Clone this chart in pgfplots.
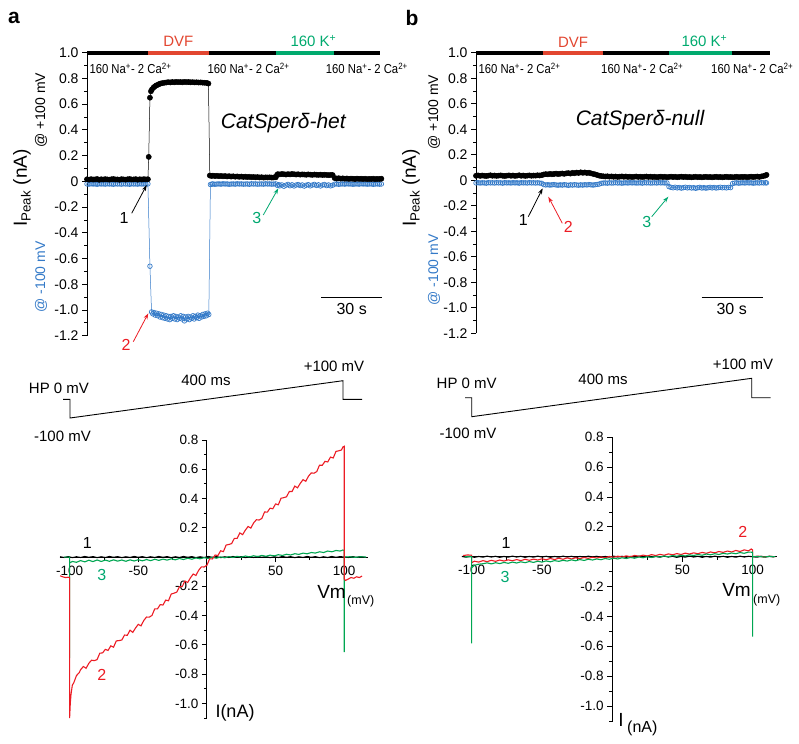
\documentclass[border=0pt]{standalone}
\usepackage{pgfplots}
\pgfplotsset{compat=1.18}
\usepackage{fontspec}
\setmainfont{Liberation Sans}
\newfontfamily\narrowfont[FakeStretch=0.87]{Liberation Sans}
\usetikzlibrary{arrows.meta}
\definecolor{cblue}{RGB}{52,122,200}
\definecolor{cred}{RGB}{236,28,36}
\definecolor{cgreen}{RGB}{0,166,81}
\definecolor{lgreen}{RGB}{0,168,112}
\definecolor{bred}{RGB}{226,70,48}
\definecolor{bgreen}{RGB}{0,170,110}
\newcommand{\fs}[1]{\fontsize{#1}{#1}\selectfont}
\pgfplotsset{
  topax/.style={scale only axis, clip=false, axis x line=none, axis y line*=left,
    xmin=0, ymin=-1.2, ymax=1.0,
    ytick={-1.2,-1,-0.8,-0.6,-0.4,-0.2,0,0.2,0.4,0.6,0.8,1},
    yticklabels={-1.2,-1.0,-0.8,-0.6,-0.4,-0.2,0,0.2,0.4,0.6,0.8,1.0},
    minor y tick num=1, tick align=outside,
    major tick length=5pt, minor tick length=3pt,
    yticklabel style={font=\fs{14}},
    axis line style={line width=0.9pt}, tick style={line width=0.8pt, black}},
  ivax/.style={scale only axis, clip=false, axis lines=middle,
    axis line style={-, line width=0.9pt},
    xtick={-100,-50,50,100}, xticklabels={-100,-50,50,100},
    minor xtick={-75,-25,25,75},
    ytick={-1,-0.8,-0.6,-0.4,-0.2,0.2,0.4,0.6,0.8},
    yticklabels={-1.0,-0.8,-0.6,-0.4,-0.2,0.2,0.4,0.6,0.8},
    minor ytick={-1.1,-0.9,-0.7,-0.5,-0.3,-0.1,0.1,0.3,0.5,0.7},
    tick align=outside, major tick length=5pt, minor tick length=3pt,
    tick style={line width=0.8pt, black},
    xticklabel style={font=\fs{13.5}}, yticklabel style={font=\fs{13.5}}},
  pos/.style={black, line width=0.5pt, mark=*, mark size=2.6pt, mark options={fill=black, draw=black}},
  neg/.style={cblue, line width=0.5pt, mark=o, mark size=2.3pt, mark options={draw=cblue, line width=0.7pt}},
}
\begin{document}
\begin{tikzpicture}
\useasboundingbox (0,0) rectangle (799pt,743pt);

% ---------------- top a ----------------
\begin{axis}[topax, at={(87pt,407.3pt)}, anchor=south west, xmax=146, width=296.4pt, height=283pt]
\addplot[line width=4.3pt, black] coordinates {(0,1)(30,1)};
\addplot[line width=4.3pt, bred] coordinates {(30,1)(60,1)};
\addplot[line width=4.3pt, black] coordinates {(60,1)(93.1,1)};
\addplot[line width=4.3pt, bgreen] coordinates {(93.1,1)(121.7,1)};
\addplot[line width=4.3pt, black] coordinates {(121.7,1)(144.5,1)};
\addplot[neg] coordinates {
(0,-0.020)(1,-0.022)(2,-0.019)(3,-0.021)(4,-0.020)(5,-0.023)(6,-0.019)(7,-0.021)(8,-0.020)(9,-0.022)(10,-0.019)(11,-0.021)(12,-0.020)(13,-0.023)(14,-0.019)(15,-0.021)(16,-0.020)(17,-0.022)(18,-0.019)(19,-0.021)(20,-0.020)(21,-0.023)(22,-0.019)(23,-0.021)(24,-0.020)(25,-0.022)(26,-0.019)(27,-0.021)(28,-0.020)(29,-0.022)(30,-0.020)
(31,-0.66)(31.8,-1.015)(32.4,-1.03)(33,-1.02)(33.6,-1.04)(34.2,-1.025)(34.8,-1.045)(35.4,-1.03)(36,-1.055)(36.6,-1.035)(37.2,-1.06)(37.8,-1.04)(38.4,-1.065)(39,-1.045)(39.6,-1.07)(40.2,-1.05)(40.8,-1.075)(41.4,-1.05)(42,-1.065)(42.6,-1.045)(43.2,-1.07)(43.8,-1.05)(44.4,-1.075)(45,-1.055)(45.6,-1.065)(46.2,-1.045)(46.8,-1.07)(47.4,-1.05)(48,-1.085)(48.6,-1.055)(49.2,-1.07)(49.8,-1.05)(50.4,-1.075)(51,-1.055)(51.6,-1.065)(52.2,-1.045)(52.8,-1.07)(53.4,-1.05)(54,-1.06)(54.6,-1.04)(55.2,-1.065)(55.8,-1.045)(56.4,-1.055)(57,-1.035)(57.6,-1.05)(58.2,-1.03)(58.8,-1.045)(59.4,-1.025)(60,-1.035)
(60.8,-0.025)(61.5,-0.022)(62,-0.020)(63,-0.023)(64,-0.021)(65,-0.020)(66,-0.022)(67,-0.019)(68,-0.021)(69,-0.020)(70,-0.023)(71,-0.021)(72,-0.020)(73,-0.022)(74,-0.019)(75,-0.021)(76,-0.020)(77,-0.022)(78,-0.021)(79,-0.020)(80,-0.023)(81,-0.019)(82,-0.021)(83,-0.020)(84,-0.022)(85,-0.021)(86,-0.020)(87,-0.022)(88,-0.019)(89,-0.021)(90,-0.020)(91,-0.022)(92,-0.021)(93,-0.020)
(93.8,-0.032)(94.5,-0.026)(95,-0.035)(96,-0.028)(97,-0.038)(98,-0.030)(99,-0.024)(100,-0.034)(101,-0.027)(102,-0.036)(103,-0.029)(104,-0.025)(105,-0.033)(106,-0.028)(107,-0.037)(108,-0.030)(109,-0.026)(110,-0.035)(111,-0.029)(112,-0.024)(113,-0.032)(114,-0.027)(115,-0.036)(116,-0.029)(117,-0.025)(118,-0.033)(119,-0.028)(120,-0.035)(121,-0.030)
(122,-0.022)(123,-0.020)(124,-0.023)(125,-0.021)(126,-0.020)(127,-0.022)(128,-0.019)(129,-0.021)(130,-0.020)(131,-0.023)(132,-0.021)(133,-0.020)(134,-0.022)(135,-0.019)(136,-0.021)(137,-0.020)(138,-0.022)(139,-0.021)(140,-0.020)(141,-0.023)(142,-0.021)(143,-0.020)(144,-0.022)(145,-0.021)};
\addplot[pos] coordinates {
(0,0.016)(1,0.013)(2,0.017)(3,0.014)(4,0.015)(5,0.018)(6,0.012)(7,0.016)(8,0.014)(9,0.017)(10,0.015)(11,0.013)(12,0.016)(13,0.018)(14,0.014)(15,0.015)(16,0.012)(17,0.017)(18,0.015)(19,0.013)(20,0.016)(21,0.018)(22,0.014)(23,0.015)(24,0.017)(25,0.013)(26,0.016)(27,0.014)(28,0.017)(29,0.015)(30,0.016)
(30.4,0.19)(31,0.65)(31.5,0.70)(32,0.715)(32.7,0.728)(33.4,0.738)(34.1,0.745)(34.8,0.75)(35.5,0.756)(36.2,0.76)(37,0.763)(38,0.766)(39,0.768)(40,0.771)(41,0.769)(42,0.772)(43,0.77)(44,0.773)(45,0.771)(46,0.772)(47,0.77)(48,0.773)(49,0.771)(50,0.772)(51,0.77)(52,0.771)(53,0.769)(54,0.77)(55,0.768)(56,0.769)(57,0.767)(58,0.766)(59,0.765)(59.8,0.76)
(60.5,0.045)(61.3,0.042)(62,0.044)(63,0.041)(64,0.043)(65,0.040)(66,0.042)(67,0.039)(68,0.041)(69,0.038)(70,0.040)(71,0.037)(72,0.039)(73,0.036)(74,0.038)(75,0.035)(76,0.037)(77,0.034)(78,0.036)(79,0.033)(80,0.035)(81,0.032)(82,0.034)(83,0.031)(84,0.033)(85,0.030)(86,0.032)(87,0.029)(88,0.031)(89,0.030)(90,0.031)(91,0.029)(92,0.030)(93,0.031)
(93.6,0.050)(94,0.056)(95,0.054)(96,0.057)(97,0.055)(98,0.053)(99,0.056)(100,0.054)(101,0.057)(102,0.055)(103,0.053)(104,0.055)(105,0.052)(106,0.054)(107,0.053)(108,0.051)(109,0.054)(110,0.052)(111,0.050)(112,0.053)(113,0.051)(114,0.050)(115,0.052)(116,0.049)(117,0.051)(118,0.050)(119,0.048)(120,0.050)(121,0.049)
(122,0.025)(123,0.022)(124,0.024)(125,0.021)(126,0.023)(127,0.020)(128,0.022)(129,0.019)(130,0.021)(131,0.020)(132,0.018)(133,0.021)(134,0.019)(135,0.020)(136,0.018)(137,0.020)(138,0.017)(139,0.019)(140,0.018)(141,0.020)(142,0.017)(143,0.019)(144,0.018)(145,0.020)};
\end{axis}

% ---------------- top b ----------------
\begin{axis}[topax, at={(476pt,409.7pt)}, anchor=south west, xmax=143.5, width=294.6pt, height=280.6pt]
\addplot[line width=4.3pt, black] coordinates {(0,1)(32.5,1)};
\addplot[line width=4.3pt, bred] coordinates {(32.5,1)(61.7,1)};
\addplot[line width=4.3pt, black] coordinates {(61.7,1)(94,1)};
\addplot[line width=4.3pt, bgreen] coordinates {(94,1)(124.5,1)};
\addplot[line width=4.3pt, black] coordinates {(124.5,1)(143.2,1)};
\addplot[neg] coordinates {
(0,-0.021)(1,-0.019)(2,-0.022)(3,-0.020)(4,-0.021)(5,-0.023)(6,-0.019)(7,-0.021)(8,-0.020)(9,-0.022)(10,-0.019)(11,-0.021)(12,-0.020)(13,-0.023)(14,-0.019)(15,-0.021)(16,-0.020)(17,-0.022)(18,-0.019)(19,-0.021)(20,-0.020)(21,-0.023)(22,-0.019)(23,-0.021)(24,-0.020)(25,-0.022)(26,-0.019)(27,-0.021)(28,-0.020)(29,-0.022)(30,-0.020)(31,-0.022)(32,-0.024)
(33,-0.034)(34,-0.037)(35,-0.035)(36,-0.038)(37,-0.036)(38,-0.034)(39,-0.037)(40,-0.039)(41,-0.036)(42,-0.038)(43,-0.035)(44,-0.037)(45,-0.040)(46,-0.036)(47,-0.038)(48,-0.035)(49,-0.037)(50,-0.039)(51,-0.036)(52,-0.038)(53,-0.035)(54,-0.037)(55,-0.034)(56,-0.036)(57,-0.038)(58,-0.035)(59,-0.033)(60,-0.030)
(61,-0.024)(62,-0.022)(63,-0.021)(64,-0.023)(65,-0.020)(66,-0.022)(67,-0.021)(68,-0.019)(69,-0.022)(70,-0.020)(71,-0.023)(72,-0.021)(73,-0.020)(74,-0.022)(75,-0.019)(76,-0.021)(77,-0.020)(78,-0.022)(79,-0.021)(80,-0.020)(81,-0.023)(82,-0.019)(83,-0.021)(84,-0.020)(85,-0.022)(86,-0.021)(87,-0.020)(88,-0.022)(89,-0.019)(90,-0.021)(91,-0.020)(92,-0.022)(93,-0.021)
(94,-0.050)(95,-0.056)(96,-0.059)(97,-0.055)(98,-0.060)(99,-0.057)(100,-0.062)(101,-0.058)(102,-0.055)(103,-0.060)(104,-0.057)(105,-0.061)(106,-0.058)(107,-0.063)(108,-0.059)(109,-0.056)(110,-0.061)(111,-0.058)(112,-0.062)(113,-0.059)(114,-0.056)(115,-0.060)(116,-0.057)(117,-0.061)(118,-0.058)(119,-0.055)(120,-0.059)(121,-0.057)(122,-0.060)(123,-0.056)(124,-0.058)
(125,-0.026)(126,-0.022)(127,-0.020)(128,-0.023)(129,-0.021)(130,-0.020)(131,-0.022)(132,-0.019)(133,-0.021)(134,-0.020)(135,-0.023)(136,-0.021)(137,-0.020)(138,-0.022)(139,-0.019)(140,-0.021)(141,-0.020)(141.5,-0.021)};
\addplot[pos] coordinates {
(0,0.035)(1,0.038)(2,0.034)(3,0.037)(4,0.035)(5,0.033)(6,0.036)(7,0.039)(8,0.035)(9,0.037)(10,0.034)(11,0.036)(12,0.038)(13,0.035)(14,0.033)(15,0.036)(16,0.038)(17,0.035)(18,0.037)(19,0.034)(20,0.036)(21,0.039)(22,0.035)(23,0.037)(24,0.034)(25,0.036)(26,0.038)(27,0.035)(28,0.037)(29,0.036)(30,0.039)(31,0.037)(32,0.040)
(33,0.045)(34,0.048)(35,0.046)(36,0.050)(37,0.047)(38,0.049)(39,0.052)(40,0.048)(41,0.051)(42,0.053)(43,0.050)(44,0.054)(45,0.056)(46,0.052)(47,0.058)(48,0.055)(49,0.060)(50,0.057)(51,0.062)(52,0.058)(53,0.061)(54,0.057)(55,0.059)(56,0.054)(57,0.050)(58,0.046)(59,0.041)
(60,0.036)(61,0.033)(62,0.031)(63,0.029)(64,0.031)(65,0.028)(66,0.030)(67,0.027)(68,0.029)(69,0.026)(70,0.028)(71,0.030)(72,0.027)(73,0.029)(74,0.026)(75,0.028)(76,0.025)(77,0.027)(78,0.029)(79,0.026)(80,0.028)(81,0.025)(82,0.027)(83,0.029)(84,0.026)(85,0.028)(86,0.025)(87,0.027)(88,0.024)(89,0.026)(90,0.028)(91,0.025)(92,0.027)(93,0.024)(94,0.026)(95,0.028)(96,0.025)(97,0.027)(98,0.024)(99,0.026)(100,0.028)
(101,0.025)(102,0.027)(103,0.024)(104,0.026)(105,0.023)(106,0.025)(107,0.027)(108,0.024)(109,0.026)(110,0.023)(111,0.025)(112,0.027)(113,0.024)(114,0.026)(115,0.023)(116,0.025)(117,0.027)(118,0.024)(119,0.026)(120,0.023)(121,0.025)(122,0.027)(123,0.024)(124,0.026)(125,0.023)(126,0.025)(127,0.027)(128,0.024)(129,0.026)(130,0.025)(131,0.027)(132,0.024)(133,0.026)(134,0.028)(135,0.025)(136,0.027)(137,0.029)(138,0.026)(139,0.030)(140,0.033)(141,0.037)(141.5,0.042)};
\end{axis}

% ---------------- IV a ----------------
\begin{axis}[ivax, at={(60pt,25pt)}, anchor=south west, xmin=-107, xmax=117.4, ymin=-1.1, ymax=0.8, width=308.1pt, height=278pt]
\addplot[black, line width=1.1pt] coordinates {
(-107,0.002)(-104,-0.003)(-101,0.003)(-98,-0.004)(-95,0.002)(-92,-0.003)(-89,0.004)(-86,-0.002)(-83,0.003)(-80,-0.004)(-77,0.002)(-74,-0.003)(-71,0.004)(-68,-0.002)(-65,0.003)(-62,-0.004)(-59,0.002)(-56,-0.003)(-53,0.004)(-50,-0.002)(-47,0.003)(-44,-0.004)(-41,0.002)(-38,-0.003)(-35,0.004)(-32,-0.002)(-29,0.003)(-26,-0.004)(-23,0.002)(-20,-0.003)(-17,0.004)(-14,-0.002)(-11,0.003)(-8,-0.004)(-5,0.002)(-2,-0.003)(1,0.004)(4,-0.002)(7,0.003)(10,-0.004)(13,0.002)(16,-0.003)(19,0.004)(22,-0.002)(25,0.003)(28,-0.004)(31,0.002)(34,-0.003)(37,0.004)(40,-0.002)(43,0.003)(46,-0.004)(49,0.002)(52,-0.003)(55,0.004)(58,-0.002)(61,0.003)(64,-0.004)(67,0.002)(70,-0.003)(73,0.004)(76,-0.002)(79,0.003)(82,-0.004)(85,0.002)(88,-0.003)(91,0.004)(94,-0.002)(97,0.003)(100,0.0)(103,-0.003)(106,0.003)(109,-0.002)(112,0.003)(115,-0.002)};
\addplot[cgreen, line width=1.1pt] coordinates {
(-104,0)(-100,0)(-100,-0.69)(-100,-0.04)(-98,-0.030)(-95,-0.036)(-92,-0.024)(-89,-0.033)(-86,-0.022)(-83,-0.031)(-80,-0.020)(-77,-0.030)(-74,-0.021)(-71,-0.029)(-68,-0.019)(-65,-0.028)(-62,-0.020)(-59,-0.029)(-56,-0.019)(-53,-0.027)(-50,-0.018)(-47,-0.026)(-44,-0.017)(-41,-0.025)(-38,-0.015)(-35,-0.023)(-32,-0.014)(-29,-0.021)(-26,-0.012)(-23,-0.019)(-20,-0.010)(-17,-0.017)(-14,-0.008)(-11,-0.015)(-8,-0.006)(-5,-0.012)(-2,-0.004)(1,-0.010)(4,-0.002)(7,-0.008)(10,0.001)(13,-0.005)(16,0.003)(19,-0.003)(22,0.005)(25,-0.001)(28,0.007)(31,0.001)(34,0.009)(37,0.003)(40,0.011)(43,0.005)(46,0.013)(49,0.008)(52,0.016)(55,0.011)(58,0.019)(61,0.014)(64,0.023)(67,0.018)(70,0.027)(73,0.022)(76,0.031)(79,0.027)(82,0.036)(85,0.031)(88,0.041)(91,0.036)(94,0.045)(97,0.041)(99,0.048)(100,0.045)(100,-0.65)(100,0)(104,0.002)(108,-0.002)(112,0.002)(116,0)};
\addplot[cred, line width=1.1pt] coordinates {
(-107,-0.128)(-105,-0.135)(-103,-0.140)(-101,-0.138)(-100,-0.14)(-100,-1.10)(-99.5,-1.00)(-99,-0.94)(-98,-0.875)(-97,-0.86)(-96,-0.835)(-95,-0.81)(-94,-0.80)(-93,-0.79)(-92,-0.77)(-90,-0.748)(-88,-0.760)(-86,-0.726)(-84,-0.705)(-82,-0.708)(-80,-0.701)(-78,-0.657)(-76,-0.655)(-74,-0.631)(-72,-0.638)(-70,-0.607)(-68,-0.616)(-66,-0.573)(-64,-0.571)(-62,-0.567)(-60,-0.533)(-58,-0.535)(-56,-0.500)(-54,-0.515)(-52,-0.485)(-50,-0.460)(-48,-0.470)(-46,-0.434)(-44,-0.410)(-42,-0.411)(-40,-0.399)(-38,-0.354)(-36,-0.354)(-34,-0.325)(-32,-0.328)(-30,-0.294)(-28,-0.299)(-26,-0.253)(-24,-0.247)(-22,-0.240)(-20,-0.203)(-18,-0.202)(-16,-0.164)(-14,-0.174)(-12,-0.142)(-10,-0.116)(-8,-0.126)(-6,-0.090)(-4,-0.067)(-2,-0.068)(0,-0.056)(2,-0.012)(4,-0.013)(6,0.014)(8,0.010)(10,0.043)(12,0.037)(14,0.082)(16,0.086)(18,0.092)(20,0.128)(22,0.128)(24,0.165)(26,0.153)(28,0.184)(30,0.209)(32,0.198)(34,0.233)(36,0.255)(38,0.253)(40,0.264)(42,0.308)(44,0.307)(46,0.334)(48,0.330)(50,0.363)(52,0.357)(54,0.402)(56,0.406)(58,0.412)(60,0.448)(62,0.448)(64,0.485)(66,0.473)(68,0.504)(70,0.529)(72,0.518)(74,0.553)(76,0.575)(78,0.573)(80,0.584)(82,0.628)(84,0.627)(86,0.654)(88,0.650)(90,0.683)(92,0.677)(94,0.722)(96,0.726)(98,0.732)(99,0.752)(100,0.757)(100,-0.15)(101,-0.16)(103,-0.15)(105,-0.14)(107,-0.145)(109,-0.135)(111,-0.14)(113,-0.13)};
\end{axis}

% ---------------- IV b ----------------
\begin{axis}[ivax, at={(461.7pt,21.3pt)}, anchor=south west, xmin=-107.1, xmax=117.1, ymin=-1.105, ymax=0.8, width=315pt, height=284.4pt]
\addplot[black, line width=1.1pt] coordinates {
(-107,0.002)(-104,-0.003)(-101,0.003)(-98,-0.004)(-95,0.002)(-92,-0.003)(-89,0.004)(-86,-0.002)(-83,0.003)(-80,-0.004)(-77,0.002)(-74,-0.003)(-71,0.004)(-68,-0.002)(-65,0.003)(-62,-0.004)(-59,0.002)(-56,-0.003)(-53,0.004)(-50,-0.002)(-47,0.003)(-44,-0.004)(-41,0.002)(-38,-0.003)(-35,0.004)(-32,-0.002)(-29,0.003)(-26,-0.004)(-23,0.002)(-20,-0.003)(-17,0.004)(-14,-0.002)(-11,0.003)(-8,-0.004)(-5,0.002)(-2,-0.003)(1,0.004)(4,-0.002)(7,0.003)(10,-0.004)(13,0.002)(16,-0.003)(19,0.004)(22,-0.002)(25,0.003)(28,-0.004)(31,0.002)(34,-0.003)(37,0.004)(40,-0.002)(43,0.003)(46,-0.004)(49,0.002)(52,-0.003)(55,0.004)(58,-0.002)(61,0.003)(64,-0.004)(67,0.002)(70,-0.003)(73,0.004)(76,-0.002)(79,0.003)(82,-0.004)(85,0.002)(88,-0.003)(91,0.004)(94,-0.002)(97,0.003)(100,0.0)(103,-0.003)(106,0.003)(109,-0.002)(112,0.003)(115,-0.002)};
\addplot[cred, line width=1.1pt] coordinates {
(-106,0.008)(-103,0.012)(-100,0.01)(-100,-0.04)(-98,-0.030)(-95,-0.036)(-92,-0.026)(-89,-0.033)(-86,-0.024)(-83,-0.031)(-80,-0.022)(-77,-0.029)(-74,-0.021)(-71,-0.027)(-68,-0.019)(-65,-0.026)(-62,-0.017)(-59,-0.024)(-56,-0.016)(-53,-0.022)(-50,-0.014)(-47,-0.020)(-44,-0.012)(-41,-0.019)(-38,-0.010)(-35,-0.017)(-32,-0.008)(-29,-0.015)(-26,-0.007)(-23,-0.013)(-20,-0.005)(-17,-0.011)(-14,-0.003)(-11,-0.009)(-8,-0.001)(-5,-0.007)(-2,0.002)(1,-0.004)(4,0.004)(7,-0.002)(10,0.006)(13,0.000)(16,0.009)(19,0.003)(22,0.011)(25,0.005)(28,0.014)(31,0.008)(34,0.016)(37,0.010)(40,0.019)(43,0.013)(46,0.021)(49,0.015)(52,0.024)(55,0.018)(58,0.026)(61,0.020)(64,0.029)(67,0.023)(70,0.032)(73,0.026)(76,0.035)(79,0.029)(82,0.038)(85,0.032)(88,0.042)(91,0.035)(94,0.046)(97,0.039)(99,0.052)(100,0.045)(100,0)(104,0.004)(108,-0.002)(112,0.003)(116,0)};
\addplot[cgreen, line width=1.1pt] coordinates {
(-105,0)(-100,0)(-100,-0.58)(-100,-0.075)(-99,-0.065)(-98,-0.058)(-96,-0.052)(-94,-0.049)(-92,-0.047)(-89,-0.041)(-86,-0.048)(-83,-0.040)(-80,-0.046)(-77,-0.038)(-74,-0.044)(-71,-0.036)(-68,-0.042)(-65,-0.034)(-62,-0.040)(-59,-0.032)(-56,-0.038)(-53,-0.030)(-50,-0.036)(-47,-0.028)(-44,-0.034)(-41,-0.026)(-38,-0.031)(-35,-0.024)(-32,-0.029)(-29,-0.021)(-26,-0.027)(-23,-0.019)(-20,-0.025)(-17,-0.017)(-14,-0.022)(-11,-0.015)(-8,-0.020)(-5,-0.012)(-2,-0.017)(1,-0.010)(4,-0.015)(7,-0.007)(10,-0.012)(13,-0.005)(16,-0.010)(19,-0.002)(22,-0.007)(25,0.000)(28,-0.005)(31,0.003)(34,-0.002)(37,0.005)(40,0.000)(43,0.008)(46,0.003)(49,0.010)(52,0.005)(55,0.013)(58,0.008)(61,0.015)(64,0.010)(67,0.018)(70,0.013)(73,0.020)(76,0.015)(79,0.023)(82,0.018)(85,0.025)(88,0.020)(91,0.028)(94,0.023)(97,0.031)(100,0.030)(100,-0.535)(100,0)(104,0.002)(108,-0.002)(112,0.002)(116,0)};
\end{axis}

% ---------------- overlay (pixel coordinates) ----------------
\begin{axis}[at={(0pt,0pt)}, anchor=south west, scale only axis, width=799pt, height=743pt,
  xmin=0, xmax=799, ymin=0, ymax=743, y dir=reverse, hide axis, clip=false]
% panel letters
\node[font=\fs{21}\bfseries] at (axis cs:14,18) {a};
\node[font=\fs{21}\bfseries] at (axis cs:412,18) {b};
% solution labels a
\node[font=\fs{15}, text=bred, anchor=base] at (axis cs:178.3,46.7) {DVF};
\node[font=\fs{15}, text=bgreen, anchor=base west] at (axis cs:287,46.7) {160 K\textsuperscript{+}};
\node[font=\narrowfont\fs{13}, anchor=base west, inner sep=0] at (axis cs:89.3,74) {160 Na\textsuperscript{+}- 2 Ca\textsuperscript{2+}};
\node[font=\narrowfont\fs{13}, anchor=base west, inner sep=0] at (axis cs:207.3,74) {160 Na\textsuperscript{+}- 2 Ca\textsuperscript{2+}};
\node[font=\narrowfont\fs{13}, anchor=base west, inner sep=0] at (axis cs:325.7,74) {160 Na\textsuperscript{+}- 2 Ca\textsuperscript{2+}};
% solution labels b
\node[font=\fs{15}, text=bred, anchor=base] at (axis cs:573,47.3) {DVF};
\node[font=\fs{15}, text=bgreen, anchor=base west] at (axis cs:678,46.7) {160 K\textsuperscript{+}};
\node[font=\narrowfont\fs{13}, anchor=base west, inner sep=0] at (axis cs:478.3,74) {160 Na\textsuperscript{+}- 2 Ca\textsuperscript{2+}};
\node[font=\narrowfont\fs{13}, anchor=base west, inner sep=0] at (axis cs:601,74) {160 Na\textsuperscript{+}- 2 Ca\textsuperscript{2+}};
\node[font=\narrowfont\fs{13}, anchor=base west, inner sep=0] at (axis cs:711,74) {160 Na\textsuperscript{+}- 2 Ca\textsuperscript{2+}};
% titles
\node[font=\fs{21}\itshape, anchor=base] at (axis cs:283.3,128.3) {CatSperδ-het};
\node[font=\fs{21}\itshape, anchor=base] at (axis cs:640,126) {CatSperδ-null};
% y labels top
\node[rotate=90, font=\fs{19}] at (axis cs:22,188) {I\textsubscript{Peak} (nA)};
\node[rotate=90, font=\fs{14}] at (axis cs:41,110) {@ +100 mV};
\node[rotate=90, font=\fs{14}, text=cblue] at (axis cs:41,277) {@ -100 mV};
\node[rotate=90, font=\fs{19}] at (axis cs:411,188) {I\textsubscript{Peak} (nA)};
\node[rotate=90, font=\fs{14}] at (axis cs:434,112) {@ +100 mV};
\node[rotate=90, font=\fs{14}, text=cblue] at (axis cs:434,270) {@ -100 mV};
% arrows a
\draw[-{Stealth[length=6pt,width=4pt]}, line width=0.8pt, black] (axis cs:131.7,213.3) -- (axis cs:146.7,185);
\node[font=\fs{16}] at (axis cs:124,218.3) {1};
\draw[-{Stealth[length=6pt,width=4pt]}, line width=0.8pt, cred] (axis cs:133.3,341.7) -- (axis cs:148.3,313.3);
\node[font=\fs{16}, text=cred] at (axis cs:126,345) {2};
\draw[-{Stealth[length=6pt,width=4pt]}, line width=0.8pt, lgreen] (axis cs:263.3,215) -- (axis cs:278.3,188.3);
\node[font=\fs{16}, text=lgreen] at (axis cs:256.7,218.3) {3};
% arrows b
\draw[-{Stealth[length=6pt,width=4pt]}, line width=0.8pt, black] (axis cs:528.3,216.7) -- (axis cs:542.7,188.3);
\node[font=\fs{16}] at (axis cs:523.3,220) {1};
\draw[-{Stealth[length=6pt,width=4pt]}, line width=0.8pt, cred] (axis cs:562.3,223.3) -- (axis cs:548.3,196.7);
\node[font=\fs{16}, text=cred] at (axis cs:568.3,227.3) {2};
\draw[-{Stealth[length=6pt,width=4pt]}, line width=0.8pt, lgreen] (axis cs:651.7,216.7) -- (axis cs:668.3,196.7);
\node[font=\fs{16}, text=lgreen] at (axis cs:646.7,221.7) {3};
% scale bars
\addplot[black, line width=1.5pt] coordinates {(321,297.7)(382,297.7)};
\node[font=\fs{16}] at (axis cs:351.7,309.3) {30 s};
\addplot[black, line width=1.5pt] coordinates {(701.7,297.7)(763.3,297.7)};
\node[font=\fs{16}] at (axis cs:731.7,309.3) {30 s};
% protocols
\addplot[black, line width=0.9pt] coordinates {(63,399.3)(70,399.3)(70,418)(343,380.7)(343,399.3)(362,399.3)};
\addplot[black, line width=0.9pt] coordinates {(465,397.7)(471.7,397.7)(471.7,416.7)(751.7,378.3)(751.7,397.7)(770.7,397.7)};
\node[font=\fs{15}] at (axis cs:59,388.3) {HP 0 mV};
\node[font=\fs{15}] at (axis cs:206,380.7) {400 ms};
\node[font=\fs{15}] at (axis cs:334,366.7) {+100 mV};
\node[font=\fs{15}] at (axis cs:62.5,436.7) {-100 mV};
\node[font=\fs{15}] at (axis cs:466.7,383) {HP 0 mV};
\node[font=\fs{15}] at (axis cs:603,379) {400 ms};
\node[font=\fs{15}] at (axis cs:743,364.3) {+100 mV};
\node[font=\fs{15}] at (axis cs:468,433) {-100 mV};
% IV labels a
\node[font=\fs{16}] at (axis cs:87.3,543.3) {1};
\node[font=\fs{16}, text=lgreen] at (axis cs:101.7,575) {3};
\node[font=\fs{16}, text=cred] at (axis cs:101.7,675) {2};
\node[font=\fs{19}, anchor=base east, inner sep=0] at (axis cs:346,598) {Vm};
\node[font=\fs{12.5}, anchor=base west, inner sep=0] at (axis cs:347,604) {(mV)};
\node[font=\fs{18}] at (axis cs:235,713.3) {I(nA)};
% IV labels b
\node[font=\fs{16}] at (axis cs:506,543) {1};
\node[font=\fs{16}, text=lgreen] at (axis cs:505,576.7) {3};
\node[font=\fs{16}, text=cred] at (axis cs:742.7,531.7) {2};
\node[font=\fs{19}, anchor=base east, inner sep=0] at (axis cs:751,596) {Vm};
\node[font=\fs{12.5}, anchor=base west, inner sep=0] at (axis cs:753,603) {(mV)};
\node[font=\fs{19}, anchor=base, inner sep=0] at (axis cs:621,726) {I};
\node[font=\fs{16}, anchor=base west, inner sep=0] at (axis cs:627,732) {(nA)};
\end{axis}
\end{tikzpicture}
\end{document}
